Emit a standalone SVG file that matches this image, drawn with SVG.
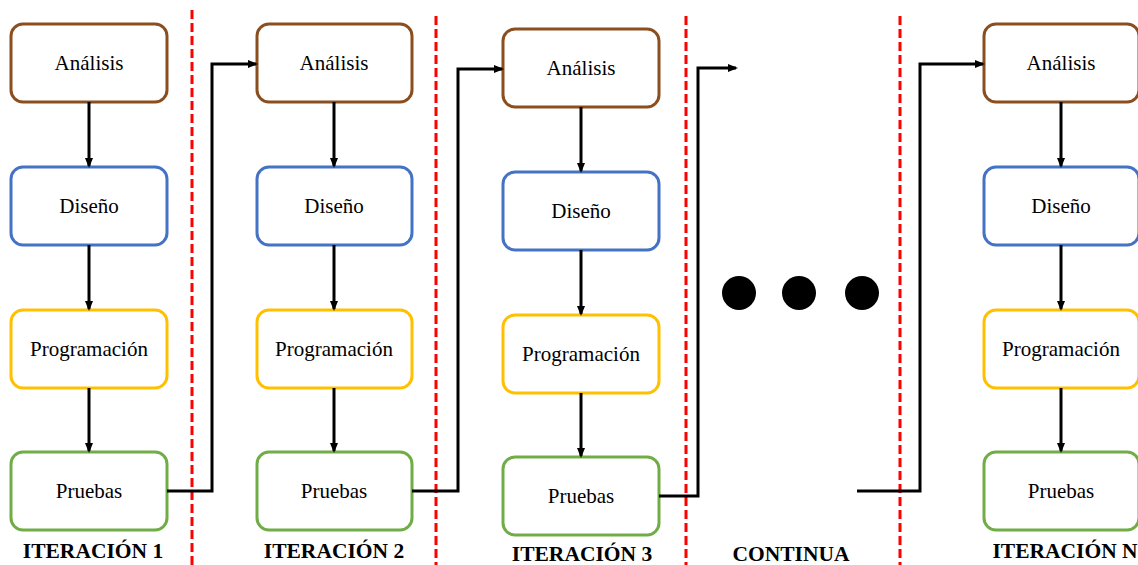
<svg xmlns="http://www.w3.org/2000/svg" width="1138" height="565" viewBox="0 0 1138 565">
  <style>
    .box { fill: #ffffff; stroke-width: 3; }
    .ana { stroke: #8B4E1E; }
    .dis { stroke: #4472C4; }
    .pro { stroke: #FFC000; }
    .pru { stroke: #70AD47; }
    .t { font-family: "Liberation Serif", "Times New Roman", serif; font-size: 21px; fill: #000; text-anchor: middle; dominant-baseline: central; }
    .lbl { font-family: "Liberation Serif", "Times New Roman", serif; font-size: 21.5px; font-weight: bold; fill: #000; text-anchor: middle; }
    .sep { stroke: #FF0000; stroke-width: 3; stroke-dasharray: 9 4; fill: none; }
    .wire { stroke: #000; stroke-width: 3; fill: none; }
  </style>
  <defs>
    <marker id="arrow" markerWidth="10" markerHeight="10" refX="8" refY="4" orient="auto" markerUnits="userSpaceOnUse" viewBox="0 0 10 8">
      <path d="M0,0 L10,4 L0,8 Z" fill="#000"/>
    </marker>
  </defs>

  <!-- iteration separators -->
  <g id="separators">
    <line class="sep" x1="192" y1="10" x2="192" y2="565"/>
    <line class="sep" x1="436" y1="16" x2="436" y2="565"/>
    <line class="sep" x1="686" y1="16" x2="686" y2="565"/>
    <line class="sep" x1="900" y1="16" x2="900" y2="565"/>
  </g>

  <!-- iteration 1 -->
  <g id="it1-analisis"><rect class="box ana" x="11" y="24" width="156" height="78" rx="12"/><text class="t" x="89" y="63">Análisis</text></g>
  <g id="it1-diseno"><rect class="box dis" x="11" y="167" width="156" height="78" rx="12"/><text class="t" x="89" y="206">Diseño</text></g>
  <g id="it1-programacion"><rect class="box pro" x="11" y="310" width="156" height="78" rx="12"/><text class="t" x="89" y="349">Programación</text></g>
  <g id="it1-pruebas"><rect class="box pru" x="11" y="452" width="156" height="78" rx="12"/><text class="t" x="89" y="491">Pruebas</text></g>

  <!-- iteration 2 -->
  <g id="it2-analisis"><rect class="box ana" x="257" y="24" width="155" height="78" rx="12"/><text class="t" x="334" y="63">Análisis</text></g>
  <g id="it2-diseno"><rect class="box dis" x="257" y="167" width="155" height="78" rx="12"/><text class="t" x="334" y="206">Diseño</text></g>
  <g id="it2-programacion"><rect class="box pro" x="257" y="310" width="155" height="78" rx="12"/><text class="t" x="334" y="349">Programación</text></g>
  <g id="it2-pruebas"><rect class="box pru" x="257" y="452" width="155" height="78" rx="12"/><text class="t" x="334" y="491">Pruebas</text></g>

  <!-- iteration 3 -->
  <g id="it3-analisis"><rect class="box ana" x="503" y="29" width="156" height="78" rx="12"/><text class="t" x="581" y="68">Análisis</text></g>
  <g id="it3-diseno"><rect class="box dis" x="503" y="172" width="156" height="78" rx="12"/><text class="t" x="581" y="211">Diseño</text></g>
  <g id="it3-programacion"><rect class="box pro" x="503" y="315" width="156" height="78" rx="12"/><text class="t" x="581" y="354">Programación</text></g>
  <g id="it3-pruebas"><rect class="box pru" x="503" y="457" width="156" height="78" rx="12"/><text class="t" x="581" y="496">Pruebas</text></g>

  <!-- continuation dots -->
  <g id="continua">
    <circle cx="739" cy="293" r="17" fill="#000"/>
    <circle cx="799" cy="293" r="17" fill="#000"/>
    <circle cx="862" cy="293" r="17" fill="#000"/>
  </g>

  <!-- iteration N -->
  <g id="itN-analisis"><rect class="box ana" x="984" y="24" width="155" height="78" rx="12"/><text class="t" x="1061" y="63">Análisis</text></g>
  <g id="itN-diseno"><rect class="box dis" x="984" y="167" width="155" height="78" rx="12"/><text class="t" x="1061" y="206">Diseño</text></g>
  <g id="itN-programacion"><rect class="box pro" x="984" y="310" width="155" height="78" rx="12"/><text class="t" x="1061" y="349">Programación</text></g>
  <g id="itN-pruebas"><rect class="box pru" x="984" y="452" width="155" height="78" rx="12"/><text class="t" x="1061" y="491">Pruebas</text></g>

  <!-- connectors -->
  <g id="connectors">
    <line class="wire" x1="89" y1="102" x2="89" y2="166" marker-end="url(#arrow)"/>
    <line class="wire" x1="89" y1="245" x2="89" y2="309" marker-end="url(#arrow)"/>
    <line class="wire" x1="89" y1="388" x2="89" y2="451" marker-end="url(#arrow)"/>
    <line class="wire" x1="334" y1="102" x2="334" y2="166" marker-end="url(#arrow)"/>
    <line class="wire" x1="334" y1="245" x2="334" y2="309" marker-end="url(#arrow)"/>
    <line class="wire" x1="334" y1="388" x2="334" y2="451" marker-end="url(#arrow)"/>
    <line class="wire" x1="581" y1="107" x2="581" y2="171" marker-end="url(#arrow)"/>
    <line class="wire" x1="581" y1="250" x2="581" y2="314" marker-end="url(#arrow)"/>
    <line class="wire" x1="581" y1="393" x2="581" y2="456" marker-end="url(#arrow)"/>
    <line class="wire" x1="1061" y1="102" x2="1061" y2="166" marker-end="url(#arrow)"/>
    <line class="wire" x1="1061" y1="245" x2="1061" y2="309" marker-end="url(#arrow)"/>
    <line class="wire" x1="1061" y1="388" x2="1061" y2="451" marker-end="url(#arrow)"/>
    <polyline class="wire" points="167,491 212,491 212,64 256,64" marker-end="url(#arrow)"/>
    <polyline class="wire" points="412,491 458,491 458,69 502,69" marker-end="url(#arrow)"/>
    <polyline class="wire" points="659,496 698,496 698,68 736,68" marker-end="url(#arrow)"/>
    <polyline class="wire" points="857,491 920,491 920,64 983,64" marker-end="url(#arrow)"/>
  </g>

  <!-- iteration labels -->
  <g id="labels">
    <text class="lbl" x="93" y="558">ITERACIÓN 1</text>
    <text class="lbl" x="334" y="558">ITERACIÓN 2</text>
    <text class="lbl" x="582" y="561">ITERACIÓN 3</text>
    <text class="lbl" x="791" y="561">CONTINUA</text>
    <text class="lbl" x="1065" y="558">ITERACIÓN N</text>
  </g>
</svg>
